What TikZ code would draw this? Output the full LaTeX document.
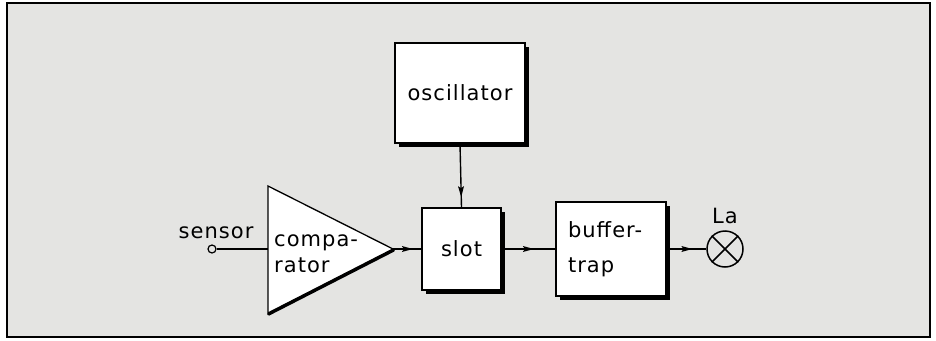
\documentclass[tikz,border=0pt]{standalone}
\usepackage{fontspec}
\setmainfont{DejaVu Sans}[LetterSpace=5]
\usetikzlibrary{arrows.meta,decorations.markings,shadows}
\definecolor{bg}{HTML}{E4E4E2}
\begin{document}
\begin{tikzpicture}[x=1pt,y=-1pt,
  blk/.style={draw=black, line width=1.3pt, fill=white, inner sep=0pt,
    drop shadow={shadow xshift=3.5pt, shadow yshift=-3.5pt, fill=black, opacity=1}},
  lbl/.style={font=\fontsize{21}{25}\selectfont, inner sep=0pt},
  sig/.style={line width=1.4pt, postaction={decorate},
    decoration={markings, mark=at position #1 with {\fill (0pt,0pt) -- (-11pt,3pt) -- (-9pt,0pt) -- (-11pt,-3pt) -- cycle;}}},
  sig/.default=0.7,
  wire/.style={line width=1.4pt}
]
\useasboundingbox (0,0) rectangle (936,340);
\draw[line width=2pt, fill=bg] (7,3) rectangle (930,337);

% comparator triangle
\coordinate (cmptop) at (268,186);
\coordinate (cmpbot) at (268,313);
\coordinate (cmpin) at (268,249);
\coordinate (cmpout) at (393,249);
\draw[line width=1.3pt, fill=white, line join=miter] (cmptop) -- (cmpout) -- (cmpbot) -- cycle;
\draw[line width=3pt, line cap=round] ([shift={(0.6,1.2)}]cmpbot) -- ([shift={(0.6,1.2)}]cmpout);
\node[lbl, anchor=west, align=left, font=\fontsize{21}{26}\selectfont] (cmptxt) at (274,254) {compa-\\rator};

% blocks
\node[blk, lbl, minimum width=130pt, minimum height=100pt] (osc) at (460,93) {oscillator};
\node[blk, lbl, minimum width=79pt, minimum height=82pt] (slot) at (461.5,249) {slot};
\node[blk, lbl, minimum width=110pt, minimum height=94pt, text width=86pt, align=left,
      font=\fontsize{21}{35}\selectfont] (buf) at (611,249) {buffer-\\trap};

% sensor
\node[circle, draw, line width=1.2pt, minimum size=8pt, inner sep=0pt] (sen) at (212,249) {};
\node[lbl, anchor=base] (sentxt) at (216,238) {sensor};

% lamp
\node[circle, draw, line width=1.5pt, minimum size=36pt, inner sep=0pt] (lamp) at (725,249) {};
\draw[line width=1.5pt] (lamp.north west) -- (lamp.south east);
\draw[line width=1.5pt] (lamp.north east) -- (lamp.south west);
\node[lbl, anchor=base] (latxt) at (725,223) {La};

% connectors
\draw[wire] (sen.east) -- (cmpin);
\draw[sig] (cmpout) -- (slot.west);
\draw[sig=0.84] (osc.south) -- (slot.north);
\draw[sig=0.6] (slot.east) -- (buf.west);
\draw[sig=0.65] (buf.east) -- (lamp.west);
\end{tikzpicture}
\end{document}
